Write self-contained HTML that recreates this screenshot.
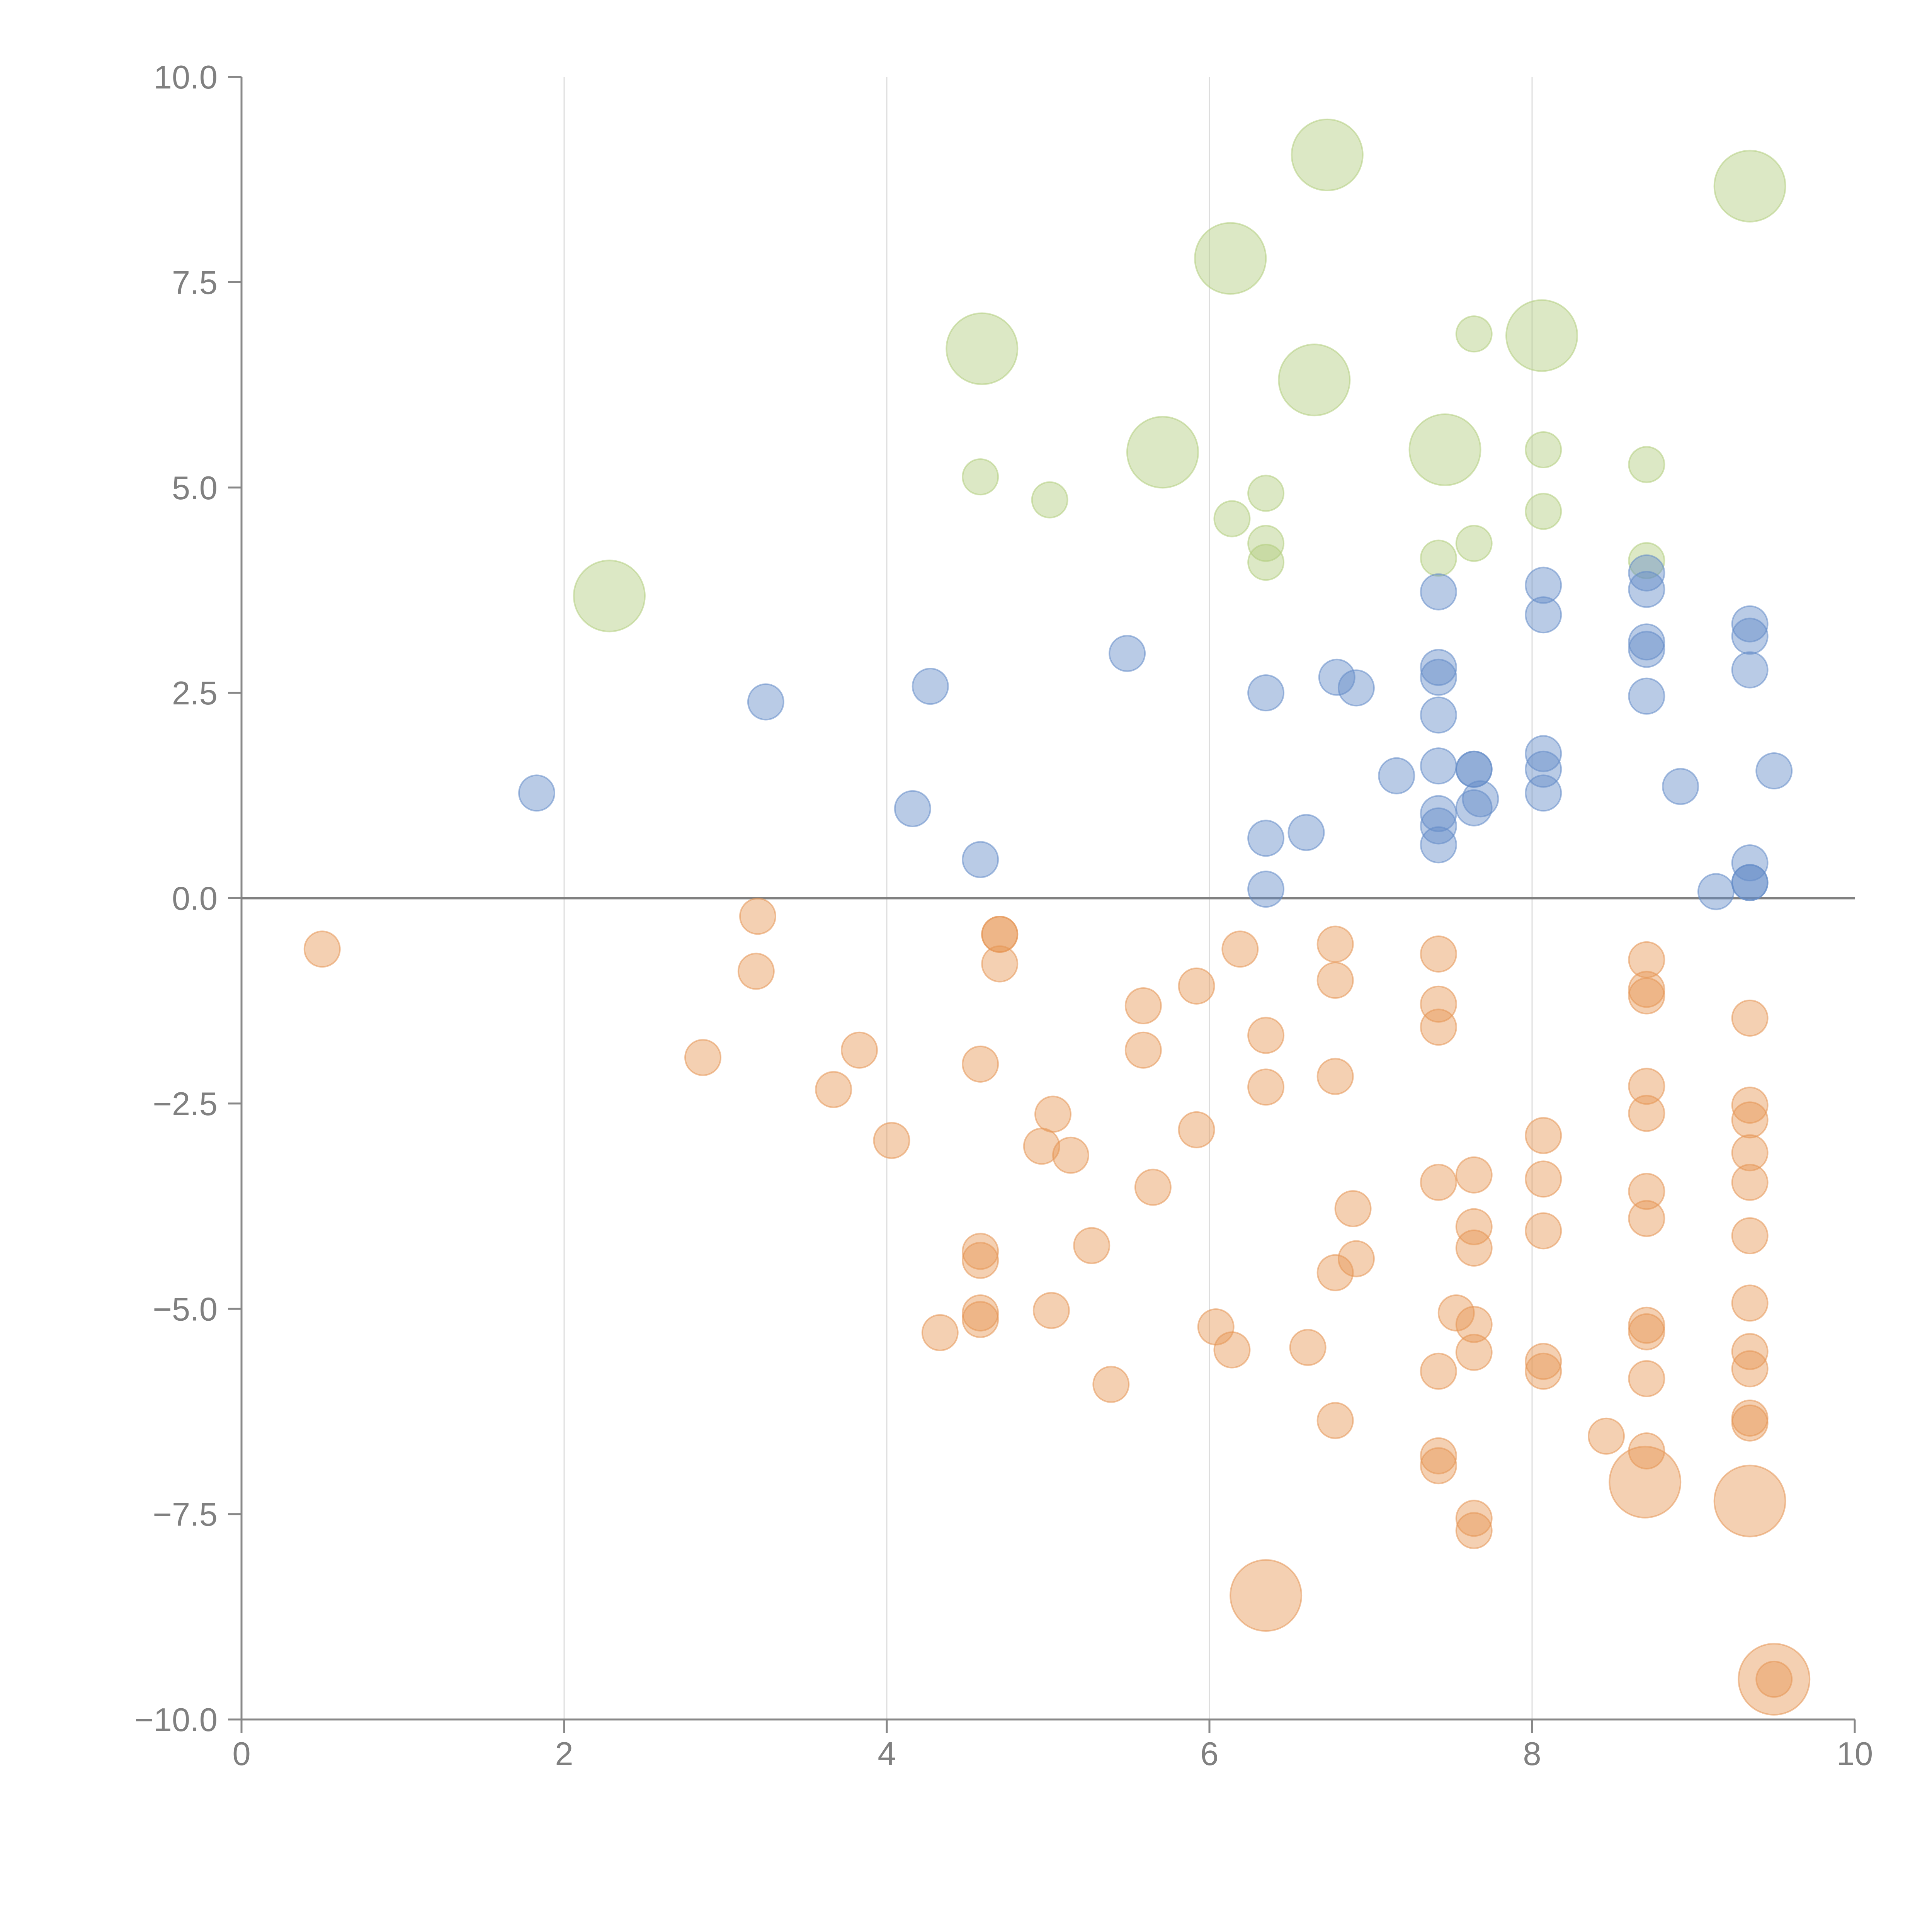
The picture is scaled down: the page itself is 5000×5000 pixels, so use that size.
<!DOCTYPE html>
<html><head><meta charset="utf-8"><style>html,body{margin:0;padding:0;background:#fff}svg{display:block}</style></head>
<body>
<svg id="chart" xmlns="http://www.w3.org/2000/svg" width="5000" height="5000" viewBox="0 0 5000 5000">
<rect width="5000" height="5000" fill="#fff"/>
<g id="grid"></g><g id="axes"></g><g id="marks"></g>
</svg>
<script>
const xTicks=[0,2,4,6,8,10];
const yTicks=[-10,-7.5,-5,-2.5,0,2.5,5,7.5,10];
const yTickLabels=["\u221210.0","\u22127.5","\u22125.0","\u22122.5","0.0","2.5","5.0","7.5","10.0"];
const greenX=[2.28,4.59,4.58,5.01,5.71,6.13,6.14,6.35,6.35,6.35,6.73,6.65,7.46,7.42,7.64,7.64,8.06,8.07,8.07,8.71,8.71,9.35];
const greenY=[3.68,6.69,5.13,4.85,5.43,7.79,4.62,4.93,4.32,4.09,9.05,6.31,5.46,4.14,6.87,4.32,6.85,5.46,4.71,5.28,4.11,8.67];
const greenS=[4,4,1,1,4,4,1,1,1,1,4,4,4,1,1,1,4,1,1,1,1,4];
const blueX=[1.83,3.25,4.27,4.16,4.58,5.49,6.35,6.35,6.35,6.60,6.79,6.91,7.16,7.42,7.42,7.42,7.42,7.42,7.42,7.42,7.42,7.64,7.64,7.64,7.68,8.07,8.07,8.07,8.07,8.07,8.71,8.71,8.71,8.71,8.71,8.92,9.14,9.35,9.35,9.35,9.35,9.35,9.35,9.50];
const blueY=[1.28,2.39,2.58,1.09,0.47,2.98,2.50,0.73,0.11,0.80,2.69,2.56,1.49,3.73,2.81,2.69,2.23,1.61,1.03,0.88,0.65,1.57,1.57,1.10,1.21,3.81,3.45,1.76,1.57,1.28,3.96,3.76,3.12,3.03,2.46,1.36,0.08,3.34,3.19,2.78,0.43,0.19,0.19,1.55];
const orangeX=[0.50,3.20,3.19,2.86,3.83,3.67,4.03,4.58,4.70,4.70,4.70,4.58,4.58,4.58,4.58,4.33,5.02,5.03,4.96,5.14,5.27,5.39,5.59,5.59,5.65,5.92,5.92,6.04,6.14,6.19,6.35,6.35,6.61,6.35,6.78,6.78,6.78,6.89,6.91,6.78,6.78,7.42,7.42,7.42,7.42,7.53,7.42,7.42,7.42,7.64,7.64,7.64,7.64,7.64,7.64,7.64,8.07,8.07,8.07,8.07,8.07,8.46,8.71,8.71,8.71,8.71,8.71,8.71,8.71,8.71,8.71,8.71,8.71,8.70,9.35,9.35,9.35,9.35,9.35,9.35,9.35,9.35,9.35,9.35,9.35,9.35,9.50,9.50];
const orangeY=[-0.62,-0.22,-0.89,-1.94,-1.85,-2.33,-2.95,-2.02,-0.44,-0.44,-0.80,-4.30,-4.41,-5.05,-5.13,-5.29,-5.02,-2.63,-3.02,-3.13,-4.23,-5.92,-1.31,-1.85,-3.52,-1.07,-2.82,-5.22,-5.50,-0.62,-1.67,-2.30,-5.47,-8.49,-0.56,-1.00,-2.17,-3.78,-4.39,-4.56,-6.36,-0.68,-1.29,-1.57,-3.46,-5.05,-5.76,-6.79,-6.91,-3.37,-4.00,-4.26,-5.19,-5.53,-7.55,-7.70,-2.89,-3.42,-4.05,-5.64,-5.76,-6.55,-0.75,-1.11,-1.19,-2.29,-2.62,-3.57,-3.90,-5.20,-5.28,-5.85,-6.73,-7.11,-1.46,-2.52,-2.70,-3.10,-3.46,-4.11,-4.93,-5.52,-5.73,-6.33,-6.39,-7.34,-9.51,-9.51];
const orangeS=[1,1,1,1,1,1,1,1,1,1,1,1,1,1,1,1,1,1,1,1,1,1,1,1,1,1,1,1,1,1,1,1,1,4,1,1,1,1,1,1,1,1,1,1,1,1,1,1,1,1,1,1,1,1,1,1,1,1,1,1,1,1,1,1,1,1,1,1,1,1,1,1,1,4,1,1,1,1,1,1,1,1,1,1,1,4,4,1];

const NS="http://www.w3.org/2000/svg";
const X0=625,X1=4800,Y0=4450,Y1=199;
function sx(v){return X0+(v-0)/(10-0)*(X1-X0);}
function sy(v){return Y0-(v+10)/20*(Y0-Y1);}
function sr(s){return 46*Math.sqrt(s);}
function mk(tag,attrs,parent){const e=document.createElementNS(NS,tag);for(const k in attrs)e.setAttribute(k,attrs[k]);parent.appendChild(e);return e;}
const grid=document.getElementById('grid'),axes=document.getElementById('axes'),marks=document.getElementById('marks');
xTicks.forEach(t=>{if(t>0&&t<10){const l=mk('line',{x1:sx(t),x2:sx(t),y1:Y1,y2:Y0,stroke:'#dddddd','stroke-width':3},grid);

}});
const ya=mk('line',{x1:X0,x2:X0,y1:Y1,y2:Y0,stroke:'#888','stroke-width':5},axes);


const xa=mk('line',{x1:X0,x2:X1,y1:Y0,y2:Y0,stroke:'#888','stroke-width':5},axes);


const zl=mk('line',{x1:X0,x2:X1,y1:sy(0),y2:sy(0),stroke:'#808080','stroke-width':6},axes);


xTicks.forEach(t=>{const tk=mk('line',{x1:sx(t),x2:sx(t),y1:Y0,y2:Y0+35,stroke:'#888','stroke-width':5},axes);


const tx=mk('text',{x:sx(t),y:Y0+118,'text-anchor':'middle','font-family':'Liberation Sans, Arial, sans-serif','font-size':85,fill:'#808080'},axes);
tx.textContent=String(t);

});
yTicks.forEach((t,i)=>{const tk=mk('line',{x1:X0-35,x2:X0,y1:sy(t),y2:sy(t),stroke:'#888','stroke-width':5},axes);


const tx=mk('text',{x:X0-62,y:sy(t)+30,'text-anchor':'end','font-family':'Liberation Sans, Arial, sans-serif','font-size':85,fill:'#808080'},axes);
tx.textContent=yTickLabels[i];

});
function series(xs,ys,ss,col,name){xs.forEach((x,i)=>{const c=mk('circle',{cx:sx(x),cy:sy(ys[i]),r:sr(ss?ss[i]:1),fill:col,'fill-opacity':0.45,stroke:col,'stroke-opacity':0.55,'stroke-width':4},marks);

});}
series(greenX,greenY,greenS,'rgb(178,205,126)','green-bubble');
series(blueX,blueY,null,'rgb(100,140,200)','blue-bubble');
series(orangeX,orangeY,orangeS,'rgb(230,150,85)','orange-bubble');
</script>
</body></html>
